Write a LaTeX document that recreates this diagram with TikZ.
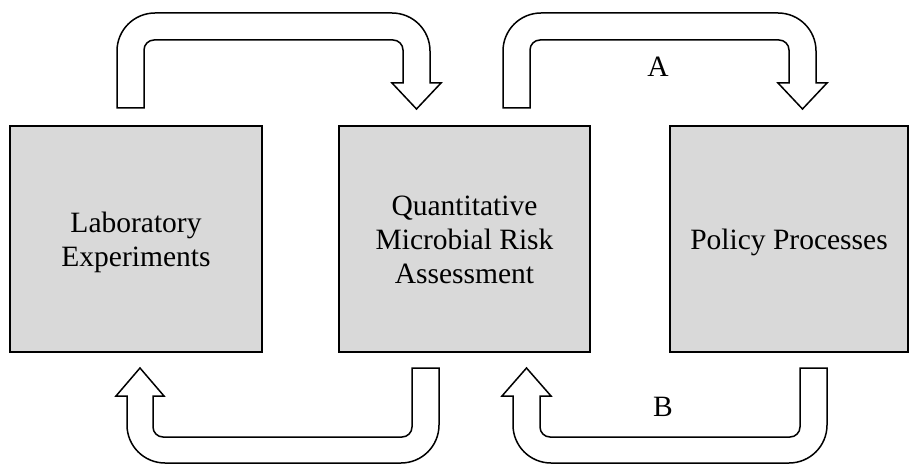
\documentclass[tikz,border=0pt]{standalone}
\usepackage{fontspec}
\setmainfont{Liberation Serif}
\newcommand\boxtext[1]{\raisebox{-4pt}[\height][\depth]{\begin{tabular}{@{}c@{}}#1\end{tabular}}}
\begin{document}
\begin{tikzpicture}[x=1pt,y=1pt,
  box/.style={draw=black, line width=2pt, fill=boxgray, inner sep=0pt, align=center,
    font=\fontsize{29.5pt}{34pt}\selectfont},
  barrow/.style={draw=black, line width=1.5pt, fill=white, line join=miter},
  lbl/.style={font=\fontsize{29.5pt}{34pt}\selectfont, inner sep=0pt}]
\definecolor{boxgray}{HTML}{D9D9D9}
\useasboundingbox (0,0) rectangle (909,464);
\node[box, minimum width=252pt, minimum height=226pt] (lab) at (136,225) {\boxtext{Laboratory\\Experiments}};
\node[box, minimum width=251pt, minimum height=226pt] (qmra) at (464.5,225) {\boxtext{Quantitative\\Microbial Risk\\Assessment}};
\node[box, minimum width=238pt, minimum height=226pt] (pol) at (789,225) {\boxtext{Policy Processes}};
% top arrow: lab -> qmra
\draw[barrow] (117,356) -- (117,413) arc[start angle=180,end angle=90,radius=38pt]
  -- (392,451) arc[start angle=90,end angle=0,radius=38pt]
  -- (430,381) -- (441,381) -- (416.5,355) -- (392,381) -- (403,381)
  -- (403,414) arc[start angle=0,end angle=90,radius=10pt]
  -- (154,424) arc[start angle=90,end angle=180,radius=10pt]
  -- (144,356) -- cycle;
% top arrow: qmra -> pol (A)
\draw[barrow] (503,356) -- (503,413) arc[start angle=180,end angle=90,radius=38pt]
  -- (778,451) arc[start angle=90,end angle=0,radius=38pt]
  -- (816,381) -- (827,381) -- (802.5,355) -- (778,381) -- (789,381)
  -- (789,414) arc[start angle=0,end angle=90,radius=10pt]
  -- (540,424) arc[start angle=90,end angle=180,radius=10pt]
  -- (530,356) -- cycle;
% bottom arrow: qmra -> lab
\draw[barrow] (127,68) -- (127,39) arc[start angle=180,end angle=270,radius=38pt]
  -- (401,1) arc[start angle=270,end angle=360,radius=38pt]
  -- (439,96) -- (412,96)
  -- (412,37) arc[start angle=0,end angle=-90,radius=10pt]
  -- (163,27) arc[start angle=270,end angle=180,radius=10pt]
  -- (153,68) -- (164,68) -- (140,96) -- (116,68) -- cycle;
% bottom arrow: pol -> qmra (B)
\draw[barrow] (513,68) -- (513,39) arc[start angle=180,end angle=270,radius=38pt]
  -- (789,1) arc[start angle=270,end angle=360,radius=38pt]
  -- (827,96) -- (800,96)
  -- (800,37) arc[start angle=0,end angle=-90,radius=10pt]
  -- (550,27) arc[start angle=270,end angle=180,radius=10pt]
  -- (540,68) -- (551,68) -- (526.5,96) -- (502,68) -- cycle;
\node[lbl] (labA) at (658,397) {A};
\node[lbl] (labB) at (663,57) {B};
\end{tikzpicture}
\end{document}
